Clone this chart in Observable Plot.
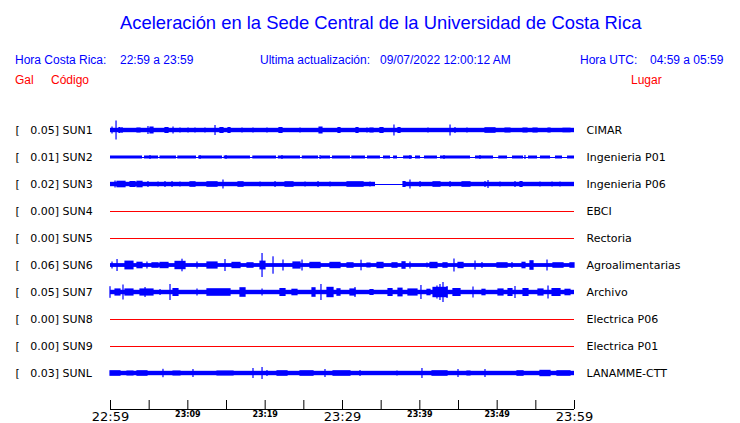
<!DOCTYPE html>
<html>
<head>
<meta charset="utf-8">
<script src="https://cdn.jsdelivr.net/npm/d3@7"></script>
<script src="https://cdn.jsdelivr.net/npm/@observablehq/plot@0.6"></script>
<style>
  html, body { margin: 0; padding: 0; background: #fff; }
  body { width: 740px; height: 423px; overflow: hidden; }
  #hdr { position: relative; height: 100px; font-family: "Liberation Sans", Arial, sans-serif; }
  #hdr div { position: absolute; white-space: pre; line-height: 1; }
  #hdr .title { top: 14px; left: 120px; font-size: 18.4px; color: #0000ff; }
  #hdr .l2 { top: 54px; font-size: 12px; color: #0000ff; }
  #hdr .l3 { top: 74px; font-size: 12px; color: #ff0000; }
  #chart svg { display: block; }
</style>
</head>
<body>
<div id="hdr"></div>
<div id="chart"></div>
<script>
// ---------- texts ----------
const titleText = "Aceleración en la Sede Central de la Universidad de Costa Rica";
const infoTexts = [
  ["Hora Costa Rica:", 15], ["22:59 a 23:59", 120],
  ["Ultima actualización:", 260], ["09/07/2022 12:00:12 AM", 380],
  ["Hora UTC:", 580], ["04:59 a 05:59", 650]
];
const headTexts = [["Gal", 15], ["Código", 51], ["Lugar", 631]];

// ---------- stations ----------
const codes  = ["SUN1","SUN2","SUN3","SUN4","SUN5","SUN6","SUN7","SUN8","SUN9","SUNL"];
const peaks  = [0.05, 0.01, 0.02, 0.00, 0.00, 0.06, 0.05, 0.00, 0.00, 0.03];
const places = ["CIMAR","Ingenieria P01","Ingenieria P06","EBCI","Rectoria",
                "Agroalimentarias","Archivo","Electrica P06","Electrica P01","LANAMME-CTT"];
// background noise half-amplitude (Gal) for each trace
const noiseLevel = [0.011, 0.0075, 0.011, 0, 0, 0.0095, 0.011, 0, 0, 0.011];

// time windows (minutes after 22:59) where the noise band is present
const sun2Noise = [[0,4.14],[4.4,6.21],[6.4,8.53],[8.7,11.12],[11.4,14.48],[14.7,18.1],
  [18.4,21.47],[21.7,24.57],[24.8,26.9],[27.2,28.45],[28.7,31.03],[31.2,32.97],
  [33.23,34.91],[35.3,36.21],[36.6,37.11],[37.9,39.05],[39.44,40.09],[40.6,42.28],
  [42.67,46.55],[47.2,49.53],[50.2,51.34],[51.98,53.41],[54.05,55.22],[55.6,56.9],
  [57.54,58.45],[59.1,60]];
const sun3Noise = [[0,34.27],[37.89,60]];
const fullNoise = [[0,60]];

// bursts: [start min, end min, half-amplitude Gal]
const sun1Bursts = [[0.26,0.26,0.0175],[0.78,0.78,0.0475],[1.16,1.29,0.015],[1.55,1.55,0.015],
  [3.49,3.88,0.0125],[4.91,4.91,0.02],[5.17,5.56,0.0175],[7.11,7.5,0.015],[8.15,8.15,0.0175],
  [9.05,9.05,0.0125],[10.09,10.09,0.0125],[10.99,10.99,0.0125],[12.28,12.28,0.0125],
  [13.58,13.58,0.025],[14.22,14.61,0.015],[15.26,15.52,0.015],[17.07,17.07,0.0125],
  [18.49,18.49,0.0125],[20.3,20.3,0.0125],[21.85,22.24,0.015],[24.57,24.57,0.0125],
  [27.03,27.41,0.0175],[29.48,29.74,0.015],[31.81,32.07,0.015],[33.23,33.23,0.0125],
  [33.62,34.01,0.0125],[34.91,35.3,0.015],[36.72,36.72,0.0275],[37.24,37.5,0.015],
  [41.12,41.12,0.0125],[43.97,43.97,0.0275],[44.61,44.61,0.015],[46.16,46.16,0.0125],
  [48.49,49.78,0.014],[51.08,51.72,0.0125],[53.41,53.92,0.0125],[54.7,55.22,0.0125],
  [56.64,56.9,0.0125],[58.58,59.48,0.0115]];
const sun2Bursts = [[5.17,5.17,0.01],[11.64,11.64,0.01],[15.0,15.0,0.01],[22.24,22.24,0.01],
  [27.16,27.16,0.01],[38.79,38.79,0.01],[43.19,43.19,0.01],[47.84,47.84,0.01],[53.66,53.66,0.01]];
const sun3Bursts = [[0.65,0.65,0.0175],[0.91,1.94,0.0165],[2.59,3.23,0.015],[3.49,4.14,0.0165],
  [4.91,4.91,0.015],[6.21,6.21,0.0125],[7.11,7.11,0.015],[8.02,8.02,0.015],[9.05,9.05,0.0125],
  [10.34,10.99,0.014],[12.54,13.84,0.014],[14.61,14.61,0.0225],[16.55,17.2,0.014],
  [19.4,19.4,0.0125],[21.34,21.34,0.015],[22.63,23.66,0.014],[25.22,25.22,0.0125],
  [26.9,26.9,0.015],[28.45,28.45,0.0125],[30.65,32.72,0.014],[33.62,33.62,0.0125],
  [37.89,38.15,0.015],[38.79,38.79,0.0225],[40.09,40.09,0.015],[41.77,42.67,0.014],
  [43.97,43.97,0.015],[45.52,46.55,0.014],[48.49,48.49,0.015],[48.88,48.88,0.02],
  [50.43,50.43,0.0125],[52.37,52.37,0.015],[53.02,53.28,0.015],[55.6,55.6,0.0125],
  [57.16,57.16,0.0125],[58.19,58.19,0.0125]];
const sun6Bursts = [[0.26,0.26,0.0175],[0.91,0.91,0.03],[1.94,2.97,0.022],[3.49,4.14,0.0165],
  [4.78,4.78,0.0175],[5.43,6.21,0.014],[6.47,7.5,0.016],[8.41,9.7,0.021],[9.31,9.31,0.0315],
  [11.25,11.25,0.0175],[12.54,13.84,0.018],[14.87,14.87,0.03],[15.78,16.81,0.016],
  [17.72,18.49,0.014],[19.4,20.04,0.022],[19.66,19.66,0.06],[21.08,21.08,0.0435],
  [22.37,22.37,0.0275],[23.66,24.57,0.018],[24.83,24.83,0.0275],[25.86,27.16,0.016],
  [28.45,29.74,0.016],[30.65,31.42,0.014],[32.46,32.46,0.0265],[33.23,33.62,0.0125],
  [34.53,35.3,0.016],[36.47,37.11,0.014],[37.76,38.15,0.019],[38.79,38.79,0.0175],
  [40.99,40.99,0.0125],[41.38,42.28,0.016],[43.06,43.58,0.014],[44.48,44.48,0.0325],
  [45.0,45.65,0.016],[47.2,47.2,0.0225],[48.1,48.1,0.015],[50.04,51.34,0.014],
  [51.98,51.98,0.015],[53.28,53.66,0.0165],[54.31,54.7,0.024],[56.51,56.51,0.0275],
  [57.28,58.58,0.014],[59.48,60,0.014]];
const sun7Bursts = [[0,0,0.029],[0.65,1.29,0.018],[1.68,1.68,0.0375],[1.94,2.97,0.018],
  [3.88,5.56,0.018],[4.53,4.53,0.025],[6.47,6.47,0.015],[7.76,7.76,0.04],[8.15,8.79,0.02],
  [11.25,11.25,0.0175],[12.54,15.52,0.019],[16.81,17.46,0.024],[19.66,19.66,0.0175],
  [21.98,22.63,0.02],[23.53,24.18,0.0165],[26.12,26.51,0.024],[27.28,27.28,0.04],
  [28.06,28.84,0.026],[29.35,29.74,0.019],[31.03,31.68,0.018],[31.68,31.68,0.025],
  [33.62,34.01,0.015],[35.95,36.47,0.02],[37.24,37.76,0.022],[38.53,39.7,0.018],
  [40.21,40.21,0.035],[40.99,41.38,0.0165],[41.77,43.58,0.026],[42.28,42.28,0.0325],
  [42.67,42.67,0.04],[43.06,43.06,0.05],[43.58,43.58,0.03],[44.35,45.26,0.02],
  [46.94,46.94,0.0275],[48.1,48.49,0.0165],[50.17,50.82,0.018],[51.47,51.98,0.02],
  [52.37,52.37,0.03],[53.41,54.05,0.02],[55.34,55.99,0.018],[56.64,56.64,0.0325],
  [57.16,58.19,0.02],[58.84,59.48,0.0165]];
const sunLBursts = [[0,1.29,0.014],[2.2,2.97,0.0125],[3.49,4.78,0.014],[6.85,6.85,0.021],
  [8.15,9.05,0.0125],[10.73,10.73,0.02],[13.84,15.91,0.0125],[18.49,18.49,0.025],
  [19.66,19.66,0.03],[20.3,20.3,0.015],[21.6,22.89,0.014],[24.57,26.25,0.014],
  [27.8,27.8,0.02],[28.84,31.03,0.014],[32.33,32.33,0.015],[37.11,37.11,0.0125],
  [40.34,40.34,0.025],[41.64,43.58,0.014],[45.0,45.0,0.02],[46.16,46.55,0.0125],
  [48.49,48.49,0.02],[52.63,53.41,0.014],[55.6,56.9,0.016],[57.8,59.48,0.014]];

// ---------- time axis ----------
const tickMinutes = [0,5,10,15,20,25,30,35,40,45,50,55,60];
const majorTicks  = [0, 30, 60];
const majorLabels = ["22:59", "23:29", "23:59"];
const minorTicks  = [10, 20, 40, 50];
const minorLabels = ["23:09", "23:19", "23:39", "23:49"];

// ---------- header ----------
const hdr = document.getElementById("hdr");
function addDiv(cls, text, left) {
  const d = document.createElement("div");
  d.className = cls; d.textContent = text;
  if (left != null) d.style.left = left + "px";
  hdr.appendChild(d);
}
addDiv("title", titleText);
infoTexts.forEach(([t, x]) => addDiv("l2", t, x));
headTexts.forEach(([t, x]) => addDiv("l3", t, x));

// ---------- build tables ----------
const spacing = 0.135;            // Gal between trace baselines
const noiseBy  = {SUN2: sun2Noise, SUN3: sun3Noise};
const burstsBy = {SUN1: sun1Bursts, SUN2: sun2Bursts, SUN3: sun3Bursts,
                  SUN6: sun6Bursts, SUN7: sun7Bursts, SUNL: sunLBursts};

const rows = codes.map((code, i) => ({
  i, code, peak: peaks[i], place: places[i], y: -i * spacing, active: peaks[i] > 0
}));
const noise = rows.flatMap(r => r.active
  ? (noiseBy[r.code] || fullNoise).map(([a, b]) => ({x1: a, x2: b, y1: r.y - noiseLevel[r.i], y2: r.y + noiseLevel[r.i]}))
  : []);
const bursts = rows.flatMap(r => (burstsBy[r.code] || []).map(([a, b, amp]) =>
  ({x1: a, x2: b, y1: r.y - amp, y2: r.y + amp})));

const rowOf = v => Math.round(-v / spacing);
const leftLabel  = v => { const r = rows[rowOf(v)]; return "[\u00a0\u00a0\u00a0" + r.peak.toFixed(2) + "] " + r.code; };
const rightLabel = v => rows[rowOf(v)].place;
const yDomain = [-10.3333 * spacing, 0.5 * spacing];

const chart = Plot.plot({
  width: 740, height: 323,
  marginLeft: 110, marginRight: 166, marginTop: 16.5, marginBottom: 14,
  x: {domain: [0, 60], axis: null},
  y: {domain: yDomain, axis: null},
  style: {fontFamily: "DejaVu Sans", fontSize: "11px", color: "black", background: "white"},
  marks: [
    Plot.ruleY(rows, {y: "y", stroke: d => d.active ? "#0000ff" : "#ff0000", strokeWidth: 1}),
    Plot.rect(noise, {x1: "x1", x2: "x2", y1: "y1", y2: "y2", fill: "#0000ff"}),
    Plot.rect(bursts, {x1: "x1", x2: "x2", y1: "y1", y2: "y2", fill: "#0000ff", insetLeft: -0.6, insetRight: -0.6}),
    Plot.axisY(rows.map(d => d.y), {anchor: "left", tickSize: 0, tickPadding: 0, textAnchor: "start",
      dx: -95, tickFormat: leftLabel, fontSize: 11}),
    Plot.axisY(rows.map(d => d.y), {anchor: "right", tickSize: 0, tickPadding: 12,
      tickFormat: rightLabel, fontSize: 11}),
    Plot.ruleY([yDomain[0]], {stroke: "black"}),
    Plot.axisX(tickMinutes, {anchor: "bottom", tickSize: -9, fill: "none", stroke: "black"}),
    Plot.axisX(majorTicks, {anchor: "bottom", tickSize: 0, tickPadding: 2, fontSize: 13,
      tickFormat: d => majorLabels[majorTicks.indexOf(d)]}),
    Plot.axisX(minorTicks, {anchor: "bottom", tickSize: 0, tickPadding: 2, fontSize: 8, fontWeight: "bold",
      tickFormat: d => minorLabels[minorTicks.indexOf(d)]})
  ]
});
document.getElementById("chart").appendChild(chart);
</script>
</body>
</html>
